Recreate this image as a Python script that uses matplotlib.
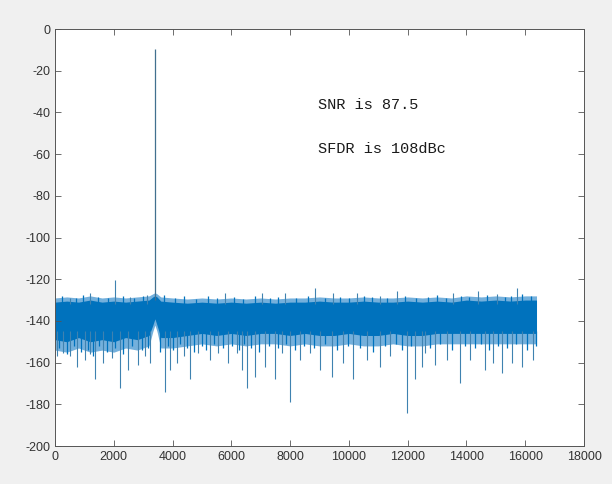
import matplotlib
matplotlib.use("Agg")
import matplotlib.pyplot as plt

# FFT spectrum (dB vs. bin)
band_x = [0, 400, 800, 1200, 1600, 2000, 2400, 2800, 3200, 3330, 3400, 3470, 3600,
          4000, 4500, 5000, 5500, 6000, 6500, 7000, 7500, 8000, 8500, 9000, 9500,
          10000, 10500, 11000, 11500, 12000, 12500, 13000, 13500, 14000, 14500,
          15000, 15500, 16000, 16384]
core_hi = [-131, -130.5, -131, -130, -131, -130.5, -131, -130.5, -130, -128.5, -128, -128.5, -130.5,
           -131, -131.5, -131, -131.5, -131, -131.5, -131, -131.5, -131, -131, -130.5, -131,
           -131, -130.5, -131, -131, -130.5, -131, -130.5, -131, -130, -130.5,
           -130, -130.5, -130, -130]
core_lo = [-149, -150, -148, -150, -149, -150, -148, -149, -147, -142, -139, -142, -148,
           -148, -147, -146, -147, -146, -147, -146, -146, -147, -146, -147, -147,
           -146, -147, -147, -146, -147, -147, -146, -146, -146, -146,
           -146, -146, -146, -146]
fringe_hi = [-129, -128.5, -129, -128, -129, -128.5, -129, -128.5, -128, -127, -126.5, -127, -128.5,
             -129, -129.5, -129, -129.5, -129, -129.5, -129, -129.5, -129, -129, -128.5, -129,
             -129, -128.5, -129, -129, -128.5, -129, -128.5, -129, -128, -128.5,
             -128, -128.5, -128, -128]
fringe_lo = [-154, -155, -153, -155, -154, -155, -153, -154, -152, -145, -142, -145, -153,
             -153, -152, -151, -152, -151, -152, -151, -151, -152, -151, -152, -152,
             -151, -152, -152, -151, -152, -152, -151, -151, -151, -151,
             -151, -151, -151, -151]

# deep dips and tall peaks in the noise floor
dn_x = [60, 283, 520, 738, 1021, 1200, 1361, 1645, 1928, 2212,
        2495, 2836, 3060, 3233, 3743, 3913, 4141, 4380, 4594, 4877,
        5275, 5558, 5898, 6182, 6352, 6523, 6806, 7146, 7487, 7714,
        7997, 8337, 8678, 9018, 9416, 9813, 10153, 10607, 11060, 11400,
        11968, 12251, 12478, 12591, 12931, 13329, 13782, 14122, 14633, 14916,
        15200, 15541, 15881, 16277]
dn_val = [-157, -155.5, -157, -162, -158.8, -156, -168, -160, -158, -172,
          -163.5, -161, -157, -160, -174, -163.5, -160, -157, -168, -155.5,
          -158.8, -155.5, -160, -155.5, -163.5, -172, -166.8, -162, -168, -155.5,
          -178.8, -158.8, -155.5, -163.5, -166.8, -160, -168, -158.8, -162, -157,
          -184.3, -168, -162, -155.5, -161, -158.8, -170, -158.8, -163.5, -160,
          -165, -160, -162, -158.8]
up_x = [510, 1191, 2042, 2552, 3120, 5785, 7034, 7827, 8848, 9471,
        10266, 11060, 11628, 13555, 14405, 15030, 15711]
up_val = [-129, -126.6, -120.4, -128.4, -127.6, -126.6, -126.6, -126.6, -124.3, -126.6,
          -126.6, -128, -125.5, -126.6, -125.5, -127, -124.3]

# shorter dips and peaks that make the ragged edges of the floor
dn2_x = [150, 400, 640, 880, 1110, 1280, 1500, 1760, 2050, 2330, 2620, 2950, 3150, 3580,
         3830, 4020, 4260, 4480, 4720, 5000, 5150, 5420, 5700, 6020, 6260, 6440, 6680,
         6950, 7290, 7600, 7850, 8150, 8480, 8820, 9200, 9600, 9980, 10380, 10820, 11230,
         11600, 11800, 12100, 12750, 13100, 13500, 13950, 14300, 14480, 14780, 15060,
         15380, 15700, 16050, 16350]
dn2_val = [-153, -156, -152, -155, -154, -157, -152, -155, -153, -156, -152, -154, -153, -155,
           -152, -154, -151, -153, -155, -152, -154, -151, -153, -152, -154, -151, -153,
           -155, -152, -153, -151, -154, -152, -153, -151, -154, -152, -153, -155, -152,
           -151, -154, -152, -153, -151, -154, -152, -153, -151, -154, -152,
           -153, -151, -154, -152]
up2_x = [250, 700, 950, 1450, 1800, 2300, 2700, 3000, 3700, 4100, 4400, 4800, 5200, 5500,
         6100, 6400, 6800, 7300, 7600, 8200, 8600, 9200, 9700, 10000, 10500, 10800, 11300,
         11900, 12300, 12700, 13000, 13300, 13800, 14100, 14700, 15300, 15500, 15900, 16200]
up2_val = [-128, -129, -127.5, -128.5, -129, -128, -129, -128, -127.5, -129, -128, -129.5, -128, -129,
           -128.5, -129.5, -128, -129, -128.5, -129, -128, -129, -128.5, -129, -128, -128.5, -129,
           -128, -129, -128.5, -127.5, -129, -128, -128.5, -127.5, -128.5, -128, -127, -128]

sig_bin = 3403
sig_db = -9.5

x_ticks = list(range(0, 18001, 2000))
y_ticks = list(range(-200, 1, 20))
notes = ["SNR is 87.5", "SFDR is 108dBc"]
note_y = [-36.5, -57.5]

plt.rcParams["axes.unicode_minus"] = False
plt.rcParams["font.family"] = ["Liberation Sans", "DejaVu Sans"]

fig = plt.figure(figsize=(6.12, 4.84), dpi=100, facecolor="#f0f0f0")
ax = fig.add_axes([55 / 612, 38 / 484, 529 / 612, 417 / 484])
ax.set_facecolor("white")

blue = "#0072BD"
ax.fill_between(band_x, fringe_lo, fringe_hi, color="#74b0dc", lw=0)
ax.fill_between(band_x, core_lo, core_hi, color=blue, lw=0)
ax.vlines(dn2_x, -145, dn2_val, color=blue, lw=0.9)
ax.vlines(up2_x, -132, up2_val, color=blue, lw=0.9)
ax.vlines(dn_x, -145, dn_val, color="#3f82b0", lw=0.8)
ax.vlines(up_x, -132, up_val, color="#3f82b0", lw=0.8)
ax.vlines([sig_bin], -130, [sig_db], color="#42708f", lw=0.9)

for txt, ty in zip(notes, note_y):
    ax.text(8950, ty, txt, family="Liberation Mono", fontsize=11,
            va="center", ha="left", color="#1a1a1a")

ax.set_xlim(0, 18000)
ax.set_ylim(-200, 0)
ax.set_xticks(x_ticks)
ax.set_yticks(y_ticks)
ax.tick_params(direction="in", top=True, right=True, length=4, width=0.6,
               colors="#555555", labelcolor="#333333", labelsize=9)
for s in ax.spines.values():
    s.set_color("#555555")
    s.set_linewidth(0.7)

fig.savefig("out.png", dpi=100, facecolor=fig.get_facecolor())
